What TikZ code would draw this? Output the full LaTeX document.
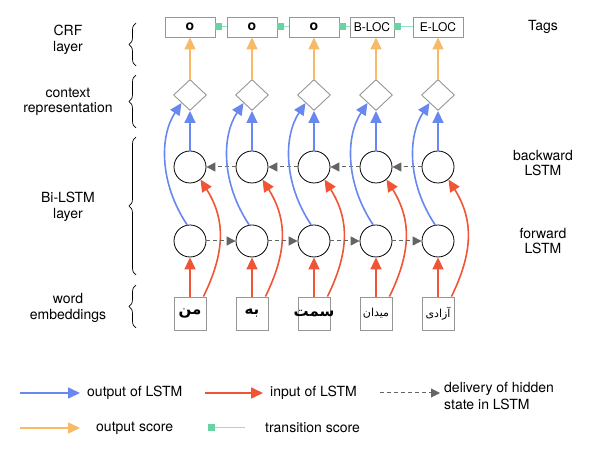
\documentclass[tikz,border=0pt]{standalone}
\usepackage{fontspec}
\setmainfont{TeX Gyre Heros}
\newfontfamily\farsi[Script=Arabic]{DejaVu Sans}
\TeXXeTstate=1
\usetikzlibrary{positioning,arrows.meta,shapes.geometric,decorations.pathreplacing}

\definecolor{lstmblue}{RGB}{104,136,240}
\definecolor{lstmred}{RGB}{240,84,52}
\definecolor{scoreorange}{RGB}{248,186,102}
\definecolor{transgreen}{RGB}{104,212,164}
\definecolor{transline}{RGB}{150,226,196}
\definecolor{boxgray}{RGB}{150,150,150}
\definecolor{hiddengray}{RGB}{100,100,100}

\newcommand\faword[1]{\makebox[0pt]{\beginR#1\endR}}

\tikzset{
  tagbox/.style={draw=boxgray, line width=0.9pt, minimum width=50pt, minimum height=20pt,
    inner sep=0pt, font=\fontsize{12}{14}\selectfont},
  ctxnode/.style={diamond, draw=boxgray, line width=0.9pt, minimum width=33pt,
    minimum height=31pt, inner sep=0pt},
  lstmnode/.style={circle, draw, line width=0.8pt, minimum size=32pt, inner sep=0pt},
  wordbox/.style={draw=boxgray, line width=0.9pt, minimum width=32pt, minimum height=33pt,
    inner sep=0pt, font=\farsi\fontsize{11}{11}\selectfont},
  boldword/.style={wordbox, font=\farsi\bfseries\fontsize{15}{15}\selectfont},
  layertext/.style={align=center, font=\fontsize{14}{15.5}\selectfont},
  legendtext/.style={align=left, anchor=west, inner sep=0pt, font=\fontsize{14}{17}\selectfont},
  outedge/.style={draw=lstmblue, line width=1.6pt, -{Triangle[length=12pt,width=11pt]}},
  inedge/.style={draw=lstmred, line width=1.6pt, -{Triangle[length=12pt,width=11pt]}},
  scoreedge/.style={draw=scoreorange, line width=1.6pt, -{Triangle[length=12pt,width=11pt]}},
  hiddenedge/.style={draw=hiddengray, line width=1pt, dash pattern=on 4pt off 3pt,
    -{Triangle[length=9pt,width=9pt]}},
  transedge/.style={draw=transline, line width=1pt,
    {Square[length=7pt,width=7pt,color=transgreen]}-},
  layerbrace/.style={decorate, decoration={brace, amplitude=7pt}, line width=0.7pt}
}

\begin{document}
\begin{tikzpicture}[x=1pt, y=1pt, node distance=62pt, on grid]
\useasboundingbox (0,0) rectangle (598,458);

% word embeddings
\node[boldword] (w1) at (190,144.5) {\faword{من}};
\node[boldword] (w2) [right=of w1] {\faword{به}};
\node[boldword] (w3) [right=of w2] {\faword{سمت}};
\node[wordbox] (w4) [right=of w3] {\faword{میدان}};
\node[wordbox] (w5) [right=of w4] {\faword{آزادی}};

% forward and backward LSTM
\node[lstmnode] (f1) [above=72.5pt of w1] {};
\node[lstmnode] (f2) [right=of f1] {};
\node[lstmnode] (f3) [right=of f2] {};
\node[lstmnode] (f4) [right=of f3] {};
\node[lstmnode] (f5) [right=of f4] {};
\node[lstmnode] (b1) [above=74pt of f1] {};
\node[lstmnode] (b2) [right=of b1] {};
\node[lstmnode] (b3) [right=of b2] {};
\node[lstmnode] (b4) [right=of b3] {};
\node[lstmnode] (b5) [right=of b4] {};

% context representation
\node[ctxnode] (d1) [above=72pt of b1] {};
\node[ctxnode] (d2) [right=of d1] {};
\node[ctxnode] (d3) [right=of d2] {};
\node[ctxnode] (d4) [right=of d3] {};
\node[ctxnode] (d5) [right=of d4] {};

% tags
\node[tagbox, font=\bfseries\fontsize{14}{14}\selectfont] (t1) [above=68pt of d1] {o};
\node[tagbox, font=\bfseries\fontsize{14}{14}\selectfont] (t2) [above=68pt of d2] {o};
\node[tagbox, font=\bfseries\fontsize{14}{14}\selectfont] (t3) [above=68pt of d3] {o};
\node[tagbox, minimum width=44pt] (t4) [above=68pt of d4, xshift=-4pt] {B-LOC};
\node[tagbox] (t5) [above=68pt of d5] {E-LOC};

% side labels
\node[layertext] (crf) at (68,418) {CRF\\layer};
\node[layertext] (ctx) at (68,356) {context\\representation};
\node[layertext] (bil) at (68,251) {Bi-LSTM\\layer};
\node[layertext] (emb) at (68,150) {word\\embeddings};
\node[layertext] (tags) at (543,431) {Tags};
\node[layertext] (bwl) at (543,295) {backward\\LSTM};
\node[layertext] (fwl) at (543,217) {forward\\LSTM};

\draw[layerbrace] (136,392) -- (136,435);
\draw[layerbrace] (136,330) -- (136,383);
\draw[layerbrace] (136,183) -- (136,321);
\draw[layerbrace] (136,130) -- (136,173);

% input of LSTM
\draw[inedge] (w1) -- (f1);
\draw[inedge] (w2) -- (f2);
\draw[inedge] (w3) -- (f3);
\draw[inedge] (w4) -- (f4);
\draw[inedge] (w5) -- (f5);
\draw[inedge] ([xshift=-3pt]w1.north east) .. controls +(22,45) and +(25,-40) .. (b1.-50);
\draw[inedge] ([xshift=-3pt]w2.north east) .. controls +(22,45) and +(25,-40) .. (b2.-50);
\draw[inedge] ([xshift=-3pt]w3.north east) .. controls +(22,45) and +(25,-40) .. (b3.-50);
\draw[inedge] ([xshift=-3pt]w4.north east) .. controls +(22,45) and +(25,-40) .. (b4.-50);
\draw[inedge] ([xshift=-3pt]w5.north east) .. controls +(22,45) and +(25,-40) .. (b5.-50);

% hidden states
\draw[hiddenedge] (f1) -- (f2);
\draw[hiddenedge] (f2) -- (f3);
\draw[hiddenedge] (f3) -- (f4);
\draw[hiddenedge] (f4) -- (f5);
\draw[hiddenedge] (b2) -- (b1);
\draw[hiddenedge] (b3) -- (b2);
\draw[hiddenedge] (b4) -- (b3);
\draw[hiddenedge] (b5) -- (b4);

% output of LSTM
\draw[outedge] (b1) -- (d1);
\draw[outedge] (b2) -- (d2);
\draw[outedge] (b3) -- (d3);
\draw[outedge] (b4) -- (d4);
\draw[outedge] (b5) -- (d5);
\draw[outedge] (f1.100) .. controls +(-28,42) and +(-22,-33) .. (d1.south west);
\draw[outedge] (f2.100) .. controls +(-28,42) and +(-22,-33) .. (d2.south west);
\draw[outedge] (f3.100) .. controls +(-28,42) and +(-22,-33) .. (d3.south west);
\draw[outedge] (f4.100) .. controls +(-28,42) and +(-22,-33) .. (d4.south west);
\draw[outedge] (f5.100) .. controls +(-28,42) and +(-22,-33) .. (d5.south west);

% scores
\draw[scoreedge] (d1) -- (t1);
\draw[scoreedge] (d2) -- (t2);
\draw[scoreedge] (d3) -- (t3);
\draw[scoreedge] (d4) -- ([xshift=4pt]t4.south);
\draw[scoreedge] (d5) -- (t5);
\draw[transedge] (t1) -- (t2);
\draw[transedge] (t2) -- (t3);
\draw[transedge] (t3) -- (t4);
\draw[transedge] (t4) -- (t5);

% legend
\node[legendtext] (lout) at (87,65) {output of LSTM};
\node[legendtext] (lin) at (270,65) {input of LSTM};
\node[legendtext] (lhid) at (444,62) {delivery of hidden\\state in LSTM};
\node[legendtext] (lscore) at (96,30) {output score};
\node[legendtext] (ltrans) at (265,30) {transition score};
\coordinate (lout0) at (20,65);
\coordinate (lin0) at (205,65);
\coordinate (lhid0) at (380,65);
\coordinate (lscore0) at (20,30);
\coordinate (ltrans0) at (208,30);
\draw[outedge] (lout0) -- ([xshift=-7pt]lout.west);
\draw[inedge] (lin0) -- ([xshift=-7pt]lin.west);
\draw[hiddenedge] (lhid0) -- ([xshift=-4pt]lhid.west |- lhid0);
\draw[scoreedge] (lscore0) -- ([xshift=-16pt]lscore.west);
\draw[transedge] (ltrans0) -- ([xshift=-20pt]ltrans.west);
\end{tikzpicture}
\end{document}
